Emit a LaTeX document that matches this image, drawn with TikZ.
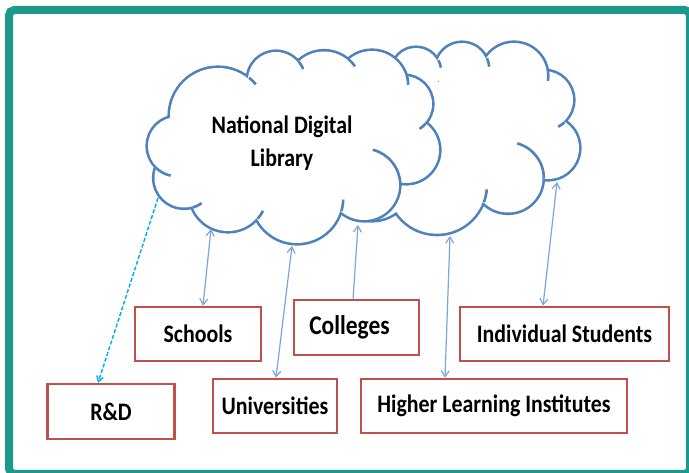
\documentclass[tikz,border=0pt]{standalone}
\usepackage{fontspec}
\setmainfont{Carlito}
\usetikzlibrary{arrows.meta,calc}
\definecolor{frameteal}{RGB}{27,153,139}
\definecolor{cloudblue}{RGB}{79,129,189}
\definecolor{boxred}{RGB}{192,80,77}
\definecolor{arrowblue}{RGB}{125,165,218}
\definecolor{dashcyan}{RGB}{0,176,240}
\tikzset{
  frameline/.style={draw=frameteal, line width=6pt, rounded corners=4pt},
  box/.style={draw=boxred, line width=1.9pt, fill=white, inner sep=0pt,
    font=\fontsize{16.4}{20}\selectfont\bfseries},
  cloudstroke/.style={draw=cloudblue, line width=3.9pt},
  cloudtick/.style={draw=cloudblue, line width=1.95pt},
  link/.style={draw=arrowblue, line width=0.9pt, {Straight Barb[length=4.5pt,width=6pt]}-{Straight Barb[length=4.5pt,width=6pt]}},
  linkone/.style={draw=arrowblue, line width=0.9pt, -{Straight Barb[length=4.5pt,width=6pt]}},
  dashlink/.style={draw=dashcyan, line width=1.1pt, dash pattern=on 3pt off 1.5pt, -{Straight Barb[length=4pt,width=5pt]}},
  titletext/.style={align=center, inner sep=0pt, font=\fontsize{16.4}{24.8}\selectfont\bfseries}
}
\newcommand{\tall}[1]{\scalebox{1}[1.15]{#1}}
\newcommand{\backcloud}{(416,72) circle[radius=24] (462,69) circle[radius=26] (514,76) circle[radius=33] (544,100) circle[radius=29] (548,148) circle[radius=31] (508,178) circle[radius=34.5] (437,185) circle[radius=48.7] (372,180) circle[radius=40] (475,130) ellipse[x radius=75, y radius=55]}
\newcommand{\frontcloud}{(177,146) circle[radius=29] (218,116) circle[radius=48] (276,80) circle[radius=28] (324,88) circle[radius=36.5] (372,86) circle[radius=35] (404,104) circle[radius=28] (406,150) circle[radius=33] (364,185) circle[radius=35] (297,198) circle[radius=45] (228,193) circle[radius=38] (184,178) circle[radius=29.5] (295,145) ellipse[x radius=105, y radius=58]}
\begin{document}
\begin{tikzpicture}[x=0.75pt,y=-0.75pt]
\path[use as bounding box] (0,0) rectangle (689,473);
\clip (0,0) rectangle (689,473);
\fill[white] (0,0) rectangle (689,473);
\draw[frameline] (9,10) rectangle (690,474);

% back cloud
\path[cloudstroke] \backcloud;
\fill[white] \backcloud;
\draw[cloudtick] (416,72) ++(-27.3:25.3) arc[start angle=-27.3, end angle=-10, radius=25.3];
\draw[cloudtick] (462,69) ++(-23.3:27.3) arc[start angle=-23.3, end angle=-5, radius=27.3];
\draw[cloudtick] (514,76) ++(-8.5:34.3) arc[start angle=-8.5, end angle=8, radius=34.3];
\draw[cloudtick] (544,100) ++(47.4:30.3) arc[start angle=47.4, end angle=62, radius=30.3];
\draw[cloudtick] (508,178) ++(1:35.8) arc[start angle=1, end angle=-75, radius=35.8];
\draw[cloudtick] (437,185) ++(19.9:50) arc[start angle=19.9, end angle=5, radius=50];

% front cloud
\path[cloudstroke] \frontcloud;
\fill[white] \frontcloud;
\draw[cloudtick] (218,116) ++(-51:49.3) arc[start angle=-51, end angle=-40, radius=49.3];
\draw[cloudtick] (276,80) ++(-38.6:29.3) arc[start angle=-38.6, end angle=-22, radius=29.3];
\draw[cloudtick] (324,88) ++(-48.9:37.8) arc[start angle=-48.9, end angle=-35, radius=37.8];
\draw[cloudtick] (372,86) ++(-16.4:36.3) arc[start angle=-16.4, end angle=-2, radius=36.3];
\draw[cloudtick] (404,104) ++(42:29.3) arc[start angle=42, end angle=58, radius=29.3];
\draw[cloudtick] (364,185) ++(-3:36.3) arc[start angle=-3, end angle=-76, radius=36.3];
\draw[cloudtick] (297,198) ++(16.3:46.3) arc[start angle=16.3, end angle=2, radius=46.3];
\draw[cloudtick] (228,193) ++(41:39.3) arc[start angle=41, end angle=27, radius=39.3];
\draw[cloudtick] (184,178) ++(73.4:30.8) arc[start angle=73.4, end angle=55, radius=30.8];
\draw[cloudtick] (177,146) ++(134:30.3) arc[start angle=134, end angle=102, radius=30.3];

\node[titletext] (ndl) at (282,143) {\tall{National Digital}\\\tall{Library}};

% boxes
\node[box, minimum width=95.6pt, minimum height=41pt] (rd) at (111,411.5) {\tall{R\&D}};
\node[box, minimum width=94.5pt, minimum height=40.5pt] (schools) at (198,334) {\tall{Schools}};
\node[box, minimum width=93pt, minimum height=40.5pt] (univ) at (275,406) {\tall{Universities}};
\node[box, minimum width=93.75pt, minimum height=41.25pt, font=\fontsize{17.6}{20}\selectfont\bfseries] (colleges) at (356.5,327.5) {\kern-10.5pt\tall{Colleges}};
\node[box, minimum width=156.75pt, minimum height=40.5pt] (indiv) at (564.5,334) {\tall{Individual Students}};
\node[box, minimum width=199.5pt, minimum height=40.5pt] (higher) at (494,406) {\tall{Higher Learning Institutes}};

% cloud attachment points
\coordinate (cR) at (158,198);
\coordinate (cS) at (211,229);
\coordinate (cU) at (292,246);
\coordinate (cC) at (358,225);
\coordinate (cH) at (450,236);
\coordinate (cI) at (557,182);

% connectors
\draw[dashlink] (cR) -- ([xshift=-9.75pt]rd.north);
\draw[link] ([xshift=3.75pt]schools.north) -- (cS);
\draw[link] ([xshift=0.75pt]univ.north) -- (cU);
\draw[linkone] ([xshift=-2.6pt]colleges.north) -- (cC);
\draw[link] ([xshift=-36.75pt]higher.north) -- (cH);
\draw[link] ([xshift=-16.1pt]indiv.north) -- (cI);
\end{tikzpicture}
\end{document}
